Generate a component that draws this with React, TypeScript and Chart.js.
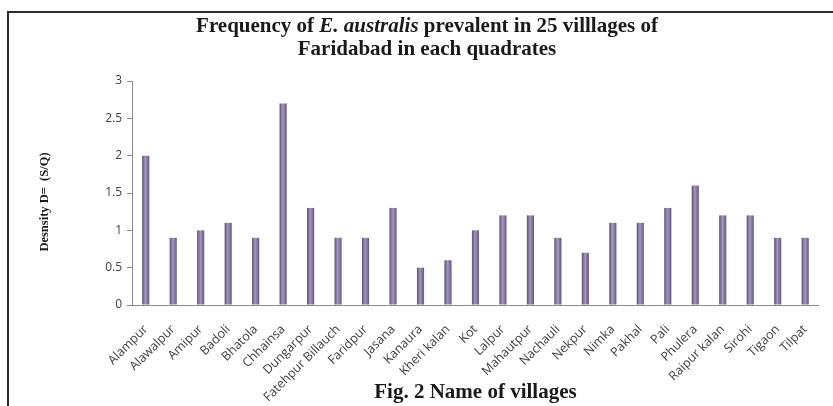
import React, { useEffect, useRef } from "react";
import { Chart, registerables } from "chart.js";

Chart.register(...registerables);

const villages = [
  "Alampur", "Alawalpur", "Amipur", "Badoli", "Bhatola", "Chhainsa", "Dungarpur",
  "Fatehpur Billauch", "Faridpur", "Jasana", "Kanaura", "Kheri kalan", "Kot", "Lalpur",
  "Mahautpur", "Nachauli", "Nekpur", "Nimka", "Pakhal", "Pali", "Phulera",
  "Raipur kalan", "Sirohi", "Tigaon", "Tilpat",
];
const density = [
  2.0, 0.9, 1.0, 1.1, 0.9, 2.7, 1.3,
  0.9, 0.9, 1.3, 0.5, 0.6, 1.0, 1.2,
  1.2, 0.9, 0.7, 1.1, 1.1, 1.3, 1.6,
  1.2, 1.2, 0.9, 0.9,
];
const yMin = 0;
const yMax = 3;
const yStep = 0.5;

const titleLine1 = [
  { text: "Frequency of ", italic: false },
  { text: "E. australis", italic: true },
  { text: " prevalent in 25 villlages of", italic: false },
];
const titleLine2 = "Faridabad in each quadrates";
const yAxisTitle = "Desnsity D=  (S/Q)";
const xAxisTitle = "Fig. 2 Name of villages";

const SERIF = '"Liberation Serif", "Times New Roman", serif';
const SANS = '"Open Sans", "Liberation Sans", sans-serif';

const framePlugin = {
  id: "frameAndTitle",
  afterDraw(chart: any) {
    const ctx = chart.ctx as CanvasRenderingContext2D;
    ctx.save();
    ctx.strokeStyle = "#2e2e2e";
    ctx.lineWidth = 2;
    ctx.beginPath();
    ctx.moveTo(8, chart.height);
    ctx.lineTo(8, 12);
    ctx.lineTo(chart.width, 12);
    ctx.stroke();

    const cx = 427;
    const fontB = `bold 21px ${SERIF}`;
    const fontBI = `italic bold 21px ${SERIF}`;
    ctx.fillStyle = "#1a1a1a";
    ctx.textBaseline = "middle";
    ctx.textAlign = "left";
    let total = 0;
    for (const part of titleLine1) {
      ctx.font = part.italic ? fontBI : fontB;
      total += ctx.measureText(part.text).width;
    }
    let x = cx - total / 2;
    for (const part of titleLine1) {
      ctx.font = part.italic ? fontBI : fontB;
      ctx.fillText(part.text, x, 27);
      x += ctx.measureText(part.text).width;
    }
    ctx.font = fontB;
    ctx.textAlign = "center";
    ctx.fillText(titleLine2, cx, 50);

    // y-axis title
    ctx.translate(45, 202);
    ctx.rotate(-Math.PI / 2);
    ctx.font = `bold 12.5px ${SERIF}`;
    ctx.textAlign = "center";
    ctx.textBaseline = "middle";
    ctx.fillText(yAxisTitle, 0, 0);
    ctx.restore();
  },
};

export default function App() {
  const canvasRef = useRef<HTMLCanvasElement | null>(null);

  useEffect(() => {
    const canvas = canvasRef.current;
    if (!canvas) return;
    const chart = new Chart(canvas, {
      type: "bar",
      data: {
        labels: villages,
        datasets: [
          {
            label: "Density",
            data: density,
            barPercentage: 0.26,
            categoryPercentage: 1,
            borderWidth: 0,
            backgroundColor: (c: any) => {
              const ch = c.chart;
              const xs = ch.scales && ch.scales.x;
              if (!xs || !ch.chartArea || c.dataIndex === undefined) return "#8576a5";
              const px = xs.getPixelForValue(c.dataIndex);
              const w = 7;
              const g = ch.ctx.createLinearGradient(px - w / 2, 0, px + w / 2, 0);
              g.addColorStop(0, "#5d5075");
              g.addColorStop(0.45, "#a497c0");
              g.addColorStop(1, "#665880");
              return g;
            },
          },
        ],
      },
      options: {
        animation: false,
        responsive: true,
        maintainAspectRatio: false,
        layout: { padding: { top: 81, right: 11, left: 0, bottom: 0 } },
        plugins: {
          legend: { display: false },
          tooltip: { enabled: false },
          title: { display: false },
        },
        scales: {
          x: {
            afterFit: (scale: any) => {
              scale.height = 101;
            },
            grid: { drawOnChartArea: false, drawTicks: false },
            border: { display: true, color: "#8c8c8c", width: 1 },
            ticks: {
              autoSkip: false,
              minRotation: 45,
              maxRotation: 45,
              padding: 17,
              color: "#404040",
              font: { family: SANS, size: 12.5 },
            },
            title: {
              display: true,
              text: xAxisTitle,
              color: "#1a1a1a",
              font: { family: SERIF, size: 21, weight: "bold" },
              padding: { top: 0, bottom: 1 },
            },
          },
          y: {
            min: yMin,
            max: yMax,
            afterFit: (scale: any) => {
              scale.width = 132;
            },
            grid: { drawOnChartArea: false, drawTicks: true, tickLength: 5, color: "#8c8c8c" },
            border: { display: true, color: "#8c8c8c", width: 1 },
            ticks: {
              stepSize: yStep,
              padding: 5,
              color: "#404040",
              font: { family: SANS, size: 12 },
              callback: (v: any) => String(Number(v)),
            },
          },
        },
      },
      plugins: [framePlugin],
    });
    return () => chart.destroy();
  }, []);

  return (
    <div style={{ position: "fixed", left: 0, top: 0, width: 833, height: 406, background: "#fff" }}>
      <canvas ref={canvasRef} />
    </div>
  );
}
